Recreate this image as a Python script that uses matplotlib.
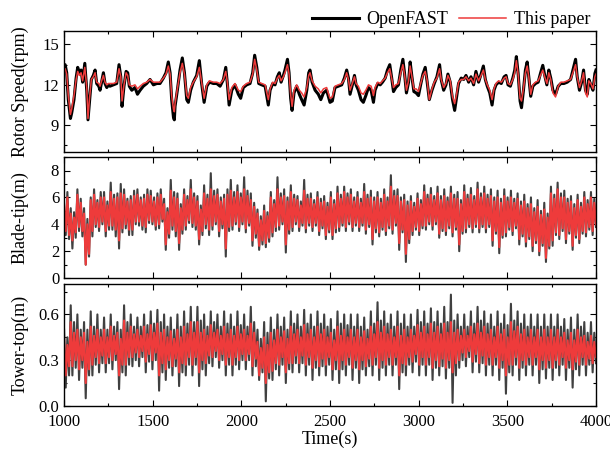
import numpy as np
import matplotlib
matplotlib.use("Agg")
import matplotlib.pyplot as plt
from matplotlib.ticker import MultipleLocator

plt.rcParams['font.family'] = ['Liberation Serif', 'DejaVu Serif']
plt.rcParams['mathtext.fontset'] = 'stix'

# ---------------- Rotor speed (rpm): turning points ----------------
rotor_time = [1000, 1006, 1015, 1024, 1036, 1043, 1056, 1068, 1077, 1086, 1096, 1105, 1117, 1128, 1135, 1143,
              1154, 1165, 1175, 1184, 1196, 1203, 1212, 1222, 1231, 1241, 1250, 1259, 1278, 1297, 1310, 1320,
              1327, 1338, 1350, 1359, 1368, 1382, 1400, 1414, 1429, 1447, 1466, 1485, 1504, 1523, 1541, 1560,
              1575, 1588, 1598, 1607, 1617, 1622, 1626, 1639, 1654, 1667, 1679, 1692, 1701, 1714, 1729, 1748,
              1763, 1776, 1790, 1805, 1820, 1842, 1861, 1880, 1899, 1912, 1921, 1931, 1946, 1964, 1983, 1996,
              2011, 2030, 2049, 2064, 2075, 2087, 2098, 2115, 2134, 2152, 2162, 2177, 2190, 2203, 2214, 2224,
              2237, 2246, 2260, 2269, 2278, 2286, 2297, 2312, 2327, 2340, 2354, 2369, 2380, 2387, 2399, 2416,
              2434, 2448, 2463, 2481, 2500, 2513, 2528, 2547, 2566, 2581, 2594, 2604, 2613, 2626, 2638, 2647,
              2660, 2675, 2688, 2702, 2717, 2732, 2745, 2754, 2769, 2783, 2796, 2811, 2824, 2837, 2849, 2858,
              2871, 2886, 2899, 2911, 2920, 2931, 2943, 2952, 2962, 2973, 2986, 2999, 3011, 3024, 3037, 3048,
              3060, 3075, 3088, 3103, 3118, 3127, 3141, 3154, 3165, 3178, 3191, 3203, 3214, 3225, 3240, 3254,
              3267, 3282, 3295, 3310, 3323, 3338, 3352, 3365, 3376, 3387, 3401, 3414, 3425, 3436, 3451, 3466,
              3482, 3493, 3504, 3517, 3531, 3542, 3551, 3561, 3572, 3580, 3591, 3602, 3612, 3621, 3632, 3644,
              3659, 3674, 3687, 3700, 3711, 3723, 3734, 3745, 3757, 3772, 3787, 3802, 3819, 3838, 3857, 3870,
              3885, 3894, 3907, 3919, 3930, 3941, 3951, 3960, 3971, 3983, 3994, 4000]
rotor_openfast = [13.3, 13.5, 12.9, 10.9, 9.5, 9.9, 10.9, 12.5, 13.3, 12.9, 13.1, 12.2, 13.6, 11.6, 9.4, 10.7,
                  12.4, 12.7, 13.1, 12.1, 11.9, 11.6, 12.2, 12.9, 12.1, 11.8, 12.0, 11.9, 12.0, 12.1, 13.5, 12.6,
                  10.4, 11.9, 13.0, 12.9, 11.9, 11.6, 11.8, 11.3, 11.6, 11.9, 12.1, 12.4, 12.0, 12.1, 12.1, 12.5,
                  12.9, 13.7, 12.9, 10.9, 9.6, 9.4, 10.4, 11.6, 13.1, 14.0, 12.9, 10.9, 10.7, 11.6, 12.2, 12.7,
                  13.8, 12.1, 10.7, 11.9, 12.2, 12.1, 12.1, 11.9, 12.4, 13.3, 12.1, 10.5, 11.6, 12.0, 11.3, 11.0,
                  11.8, 12.0, 12.1, 12.9, 14.2, 13.3, 12.1, 12.0, 11.9, 10.5, 11.6, 12.1, 12.0, 12.6, 12.9, 12.2,
                  12.7, 13.1, 13.9, 12.9, 11.0, 10.1, 11.4, 11.9, 11.3, 10.9, 10.5, 11.6, 12.9, 13.1, 12.2, 11.6,
                  11.3, 10.9, 11.4, 11.6, 10.7, 10.8, 11.8, 11.9, 12.0, 12.5, 13.1, 12.5, 11.3, 12.0, 12.7, 12.0,
                  11.6, 10.9, 10.7, 11.2, 11.8, 11.6, 10.7, 11.6, 12.1, 12.0, 12.2, 12.5, 13.1, 13.5, 12.4, 11.5,
                  11.8, 12.0, 13.1, 13.9, 12.9, 11.4, 12.2, 13.7, 12.6, 11.5, 11.4, 11.2, 12.0, 12.8, 13.3, 12.2,
                  10.9, 11.6, 12.1, 12.6, 13.5, 12.4, 11.6, 12.0, 12.8, 12.2, 10.9, 10.1, 11.1, 12.1, 12.5, 12.4,
                  12.7, 12.2, 12.6, 12.0, 13.0, 12.2, 12.8, 13.4, 12.4, 11.9, 11.4, 10.5, 11.6, 12.0, 12.2, 12.1,
                  12.6, 12.7, 12.0, 11.9, 12.5, 13.1, 14.1, 12.85, 10.8, 10.3, 11.6, 13.1, 13.7, 12.6, 11.15, 11.9,
                  12.1, 12.2, 12.85, 13.45, 12.7, 12.0, 13.1, 12.5, 11.6, 11.3, 11.9, 12.1, 12.1, 12.2, 12.4, 13.1,
                  13.9, 12.6, 11.6, 12.2, 13.1, 11.6, 11.3, 12.4, 12.0, 11.6, 12.85, 13.1]
rotor_paper = [13.0, 13.2, 12.8, 11.2, 9.8, 10.2, 11.2, 12.4, 13.0, 12.7, 12.9, 12.3, 13.3, 11.8, 9.5, 10.9,
               12.4, 12.6, 12.9, 12.2, 12.1, 11.9, 12.3, 12.7, 12.2, 12.0, 12.1, 12.1, 12.1, 12.2, 13.2, 12.6,
               10.8, 12.0, 12.9, 12.7, 12.0, 11.9, 12.0, 11.7, 11.9, 12.1, 12.2, 12.4, 12.2, 12.2, 12.2, 12.5,
               12.8, 13.4, 12.8, 11.2, 10.2, 10.0, 10.6, 11.7, 12.9, 13.6, 12.8, 11.2, 11.0, 11.8, 12.2, 12.6,
               13.3, 12.2, 11.0, 12.0, 12.3, 12.2, 12.2, 12.1, 12.4, 13.0, 12.2, 10.9, 11.8, 12.1, 11.6, 11.5,
               11.9, 12.1, 12.2, 12.8, 13.9, 13.1, 12.2, 12.1, 12.0, 10.9, 11.7, 12.2, 12.1, 12.5, 12.7, 12.3,
               12.6, 12.9, 13.5, 12.8, 11.3, 10.4, 11.6, 12.0, 11.6, 11.4, 11.1, 11.8, 12.7, 12.9, 12.3, 11.9,
               11.7, 11.4, 11.7, 11.8, 11.0, 11.1, 11.9, 12.0, 12.1, 12.4, 12.9, 12.4, 11.6, 12.1, 12.6, 12.1,
               11.9, 11.4, 11.3, 11.6, 12.0, 11.9, 11.2, 11.8, 12.2, 12.1, 12.3, 12.5, 12.9, 13.2, 12.4, 11.8,
               12.0, 12.1, 12.9, 13.5, 12.8, 11.6, 12.3, 13.4, 12.6, 11.7, 11.7, 11.5, 12.1, 12.7, 13.0, 12.3,
               10.9, 11.7, 12.2, 12.5, 13.2, 12.4, 11.8, 12.1, 12.7, 12.3, 11.1, 10.6, 11.3, 12.2, 12.4, 12.4,
               12.6, 12.3, 12.5, 12.1, 12.8, 12.3, 12.7, 13.1, 12.4, 12.0, 11.6, 10.9, 11.7, 12.1, 12.3, 12.2,
               12.5, 12.6, 12.1, 12.0, 12.4, 12.9, 13.8, 12.8, 11.0, 10.8, 11.7, 12.9, 13.4, 12.6, 11.3, 12.0,
               12.2, 12.3, 12.7, 13.1, 12.6, 12.1, 12.9, 12.4, 11.4, 11.1, 11.9, 12.2, 12.2, 12.3, 12.4, 12.9,
               13.5, 12.6, 11.8, 12.3, 12.9, 11.4, 11.1, 12.3, 12.1, 11.7, 12.6, 12.8]

# ---------------- Blade-tip deflection (m): successive peaks/troughs ----------------
blade_openfast = [
    5.0, 3.2, 6.4, 2.9,  5.2, 2.2, 4.9, 3.0,  6.6, 3.5, 5.9, 3.1,  5.2, 1.0, 4.4, 1.6,
    6.0, 3.1, 6.6, 3.8,  5.8, 3.5, 6.4, 4.0,  6.4, 3.1, 5.7, 3.6,  7.1, 3.6, 6.2, 3.1,
    6.3, 2.2, 7.0, 3.4,  6.6, 3.7, 5.9, 3.2,  6.1, 3.2, 6.5, 4.0,  6.6, 3.9, 6.0, 3.6,
    6.2, 3.4, 6.6, 4.1,  6.5, 4.0, 6.0, 3.6,  6.3, 3.7, 6.6, 4.2,  5.9, 2.1, 5.2, 3.0,
    7.3, 3.6, 6.4, 3.1,  6.3, 2.1, 5.5, 3.3,  6.6, 3.6, 6.1, 4.1,  7.3, 3.8, 6.3, 3.6,
    6.1, 2.5, 5.4, 3.2,  6.9, 3.7, 6.2, 3.2,  7.8, 3.6, 6.5, 4.0,  6.6, 3.1, 6.0, 3.7,
    6.2, 1.6, 6.6, 3.5,  7.3, 3.6, 6.4, 4.0,  6.9, 3.5, 6.3, 4.0,  7.5, 3.4, 6.5, 3.9,
    6.3, 2.4, 5.6, 3.0,  5.1, 2.1, 4.6, 2.5,  5.4, 2.3, 4.9, 2.7,  6.4, 3.1, 5.8, 3.5,
    7.5, 3.6, 6.3, 4.0,  6.6, 1.9, 6.0, 3.3,  6.9, 3.5, 6.2, 4.0,  6.1, 3.5, 5.7, 3.9,
    7.3, 3.4, 6.2, 3.9,  6.3, 3.5, 5.8, 3.9,  6.4, 3.2, 5.9, 3.7,  6.1, 2.9, 5.6, 3.4,
    6.4, 2.9, 5.8, 3.4,  6.8, 3.5, 6.2, 3.9,  6.8, 3.5, 6.3, 4.0,  6.6, 3.5, 6.0, 3.9,
    6.4, 3.5, 5.9, 3.9,  7.0, 3.3, 6.2, 3.8,  6.5, 2.5, 6.0, 3.4,  6.4, 3.1, 5.9, 3.6,
    6.6, 3.2, 6.0, 3.7,  7.65, 3.3, 6.5, 3.9, 6.6, 2.1, 6.0, 3.4,  6.2, 1.2, 5.7, 2.6,
    6.1, 3.2, 5.6, 3.6,  6.3, 3.2, 5.8, 3.7,  6.9, 3.6, 6.2, 4.0,  6.7, 3.6, 6.1, 4.0,
    6.8, 3.0, 6.1, 3.5,  6.6, 3.2, 6.0, 3.7,  6.8, 3.1, 6.2, 3.6,  6.4, 2.0, 5.8, 3.3,
    6.9, 3.4, 6.2, 3.8,  6.7, 3.4, 6.1, 3.8,  7.1, 3.4, 6.3, 3.8,  6.8, 3.4, 6.2, 3.8,
    6.6, 2.4, 6.0, 3.3,  6.5, 1.85, 5.9, 3.0, 6.6, 3.1, 6.0, 3.6,  6.5, 3.2, 5.9, 3.7,
    6.3, 2.5, 5.7, 3.1,  6.2, 2.35, 5.5, 2.9, 6.0, 2.0, 5.2, 2.6,  5.8, 1.7, 5.0, 2.4,
    5.6, 1.2, 4.8, 2.2,  6.8, 2.4, 6.2, 3.2,  7.1, 2.9, 6.3, 3.5,  6.5, 2.6, 5.9, 3.3,
    6.1, 2.1, 5.5, 3.0,  6.2, 2.6, 5.6, 3.3,  6.4, 3.1, 5.8, 3.6,  6.4, 3.2, 5.9, 3.8]
blade_paper = [
    5.5, 3.5, 6.0, 3.2,  4.8, 2.8, 4.5, 3.4,  6.2, 3.8, 5.6, 3.5,  4.8, 1.0, 4.0, 1.8,
    5.8, 3.5, 6.2, 4.0,  5.6, 3.8, 6.0, 4.2,  6.0, 3.5, 5.4, 3.9,  6.4, 3.9, 5.9, 3.6,
    6.0, 2.8, 6.3, 3.7,  6.2, 4.0, 5.7, 3.6,  5.8, 3.6, 6.1, 4.2,  6.2, 4.2, 5.8, 3.9,
    5.9, 3.8, 6.2, 4.3,  6.1, 4.2, 5.7, 3.9,  6.0, 4.0, 6.2, 4.4,  5.5, 2.5, 4.9, 3.3,
    6.5, 3.9, 6.0, 3.5,  5.9, 2.6, 5.2, 3.6,  6.2, 3.9, 5.8, 4.3,  6.6, 4.1, 6.0, 3.9,
    5.7, 2.9, 5.1, 3.5,  6.3, 4.0, 5.9, 3.6,  6.6, 3.9, 6.1, 4.2,  6.2, 3.5, 5.7, 4.0,
    5.9, 2.2, 6.2, 3.8,  6.5, 3.9, 6.0, 4.2,  6.4, 3.8, 6.0, 4.2,  6.6, 3.7, 6.1, 4.1,
    5.8, 2.8, 5.3, 3.3,  4.8, 2.4, 4.3, 2.8,  5.0, 2.6, 4.6, 3.0,  6.0, 3.4, 5.5, 3.8,
    6.6, 3.9, 6.0, 4.2,  6.1, 2.5, 5.7, 3.6,  6.4, 3.8, 5.9, 4.2,  5.8, 3.8, 5.4, 4.1,
    6.5, 3.7, 5.9, 4.1,  5.9, 3.8, 5.5, 4.1,  6.0, 3.5, 5.6, 3.9,  5.7, 3.2, 5.3, 3.6,
    6.0, 3.2, 5.5, 3.7,  6.3, 3.8, 5.9, 4.1,  6.4, 3.8, 6.0, 4.2,  6.2, 3.8, 5.7, 4.1,
    6.0, 3.8, 5.6, 4.1,  6.4, 3.6, 5.9, 4.0,  6.0, 2.9, 5.7, 3.7,  6.0, 3.4, 5.6, 3.8,
    6.2, 3.5, 5.7, 3.9,  6.8, 3.6, 6.1, 4.1,  6.1, 2.6, 5.7, 3.6,  5.8, 1.8, 5.4, 2.9,
    5.7, 3.5, 5.3, 3.8,  5.9, 3.5, 5.5, 3.9,  6.4, 3.9, 5.9, 4.2,  6.2, 3.9, 5.8, 4.2,
    6.3, 3.3, 5.8, 3.7,  6.1, 3.5, 5.7, 3.9,  6.3, 3.4, 5.9, 3.8,  5.9, 2.5, 5.5, 3.5,
    6.4, 3.7, 5.9, 4.0,  6.2, 3.7, 5.8, 4.0,  6.6, 3.7, 6.0, 4.0,  6.3, 3.7, 5.9, 4.0,
    6.1, 2.8, 5.7, 3.5,  6.0, 2.3, 5.6, 3.2,  6.1, 3.4, 5.7, 3.8,  6.0, 3.5, 5.6, 3.9,
    5.9, 2.9, 5.4, 3.3,  5.7, 2.7, 5.2, 3.1,  5.5, 2.4, 4.9, 2.8,  5.3, 2.0, 4.7, 2.6,
    5.1, 1.5, 4.5, 2.4,  6.3, 2.8, 5.9, 3.4,  6.6, 3.2, 6.0, 3.7,  6.0, 2.9, 5.6, 3.5,
    5.7, 2.4, 5.2, 3.2,  5.8, 2.9, 5.3, 3.5,  6.0, 3.4, 5.5, 3.8,  6.0, 3.5, 5.6, 4.0]

# ---------------- Tower-top deflection (m): successive peaks/troughs ----------------
tower_openfast = [
    0.50, 0.12, 0.45, 0.20,  0.66, 0.20, 0.55, 0.25,  0.60, 0.17, 0.50, 0.25,  0.55, 0.05, 0.50, 0.20,
    0.62, 0.20, 0.52, 0.27,  0.60, 0.22, 0.50, 0.28,  0.58, 0.22, 0.50, 0.28,  0.60, 0.24, 0.52, 0.30,
    0.55, 0.11, 0.50, 0.22,  0.66, 0.20, 0.55, 0.27,  0.60, 0.26, 0.52, 0.30,  0.58, 0.26, 0.52, 0.32,
    0.60, 0.22, 0.53, 0.29,  0.62, 0.24, 0.54, 0.30,  0.63, 0.10, 0.55, 0.22,  0.60, 0.17, 0.52, 0.25,
    0.58, 0.20, 0.50, 0.26,  0.60, 0.13, 0.52, 0.22,  0.62, 0.20, 0.54, 0.27,  0.65, 0.20, 0.55, 0.27,
    0.65, 0.13, 0.56, 0.24,  0.60, 0.20, 0.52, 0.28,  0.62, 0.26, 0.55, 0.32,  0.60, 0.25, 0.52, 0.30,
    0.62, 0.20, 0.54, 0.27,  0.60, 0.20, 0.52, 0.27,  0.62, 0.24, 0.53, 0.30,  0.60, 0.24, 0.52, 0.30,
    0.65, 0.20, 0.55, 0.26,  0.50, 0.17, 0.44, 0.22,  0.55, 0.03, 0.48, 0.18,  0.58, 0.17, 0.50, 0.24,
    0.60, 0.20, 0.52, 0.27,  0.58, 0.15, 0.50, 0.24,  0.62, 0.22, 0.54, 0.28,  0.60, 0.22, 0.52, 0.28,
    0.63, 0.20, 0.54, 0.27,  0.60, 0.17, 0.52, 0.25,  0.62, 0.20, 0.54, 0.26,  0.60, 0.20, 0.52, 0.27,
    0.57, 0.17, 0.50, 0.24,  0.62, 0.15, 0.54, 0.24,  0.60, 0.20, 0.53, 0.27,  0.60, 0.17, 0.52, 0.25,
    0.60, 0.15, 0.52, 0.24,  0.58, 0.20, 0.50, 0.26,  0.62, 0.20, 0.54, 0.27,  0.68, 0.17, 0.56, 0.25,
    0.62, 0.20, 0.54, 0.27,  0.60, 0.20, 0.52, 0.27,  0.62, 0.11, 0.54, 0.22,  0.60, 0.20, 0.52, 0.27,
    0.60, 0.22, 0.52, 0.29,  0.63, 0.20, 0.55, 0.27,  0.62, 0.20, 0.54, 0.27,  0.64, 0.17, 0.55, 0.25,
    0.62, 0.20, 0.54, 0.26,  0.65, 0.18, 0.55, 0.25,  0.73, 0.02, 0.56, 0.20,  0.60, 0.25, 0.52, 0.30,
    0.60, 0.26, 0.52, 0.32,  0.62, 0.22, 0.54, 0.29,  0.65, 0.22, 0.56, 0.28,  0.62, 0.20, 0.54, 0.27,
    0.60, 0.20, 0.52, 0.27,  0.62, 0.17, 0.54, 0.25,  0.60, 0.08, 0.53, 0.22,  0.67, 0.20, 0.56, 0.27,
    0.62, 0.17, 0.54, 0.25,  0.60, 0.20, 0.52, 0.27,  0.60, 0.20, 0.52, 0.27,  0.60, 0.15, 0.52, 0.24,
    0.60, 0.18, 0.52, 0.25,  0.60, 0.17, 0.52, 0.25,  0.60, 0.20, 0.52, 0.27,  0.57, 0.17, 0.50, 0.25,
    0.58, 0.12, 0.50, 0.24,  0.60, 0.20, 0.52, 0.27,  0.55, 0.20, 0.48, 0.27,  0.55, 0.22, 0.48, 0.28]
tower_paper = [
    0.45, 0.20, 0.40, 0.26,  0.55, 0.26, 0.48, 0.30,  0.50, 0.24, 0.45, 0.30,  0.48, 0.15, 0.42, 0.24,
    0.52, 0.27, 0.46, 0.32,  0.50, 0.28, 0.45, 0.33,  0.50, 0.28, 0.45, 0.32,  0.52, 0.30, 0.46, 0.34,
    0.48, 0.20, 0.44, 0.27,  0.56, 0.27, 0.48, 0.32,  0.52, 0.32, 0.47, 0.35,  0.50, 0.32, 0.46, 0.36,
    0.52, 0.29, 0.47, 0.34,  0.53, 0.30, 0.48, 0.35,  0.54, 0.20, 0.48, 0.28,  0.50, 0.24, 0.45, 0.30,
    0.49, 0.26, 0.44, 0.31,  0.50, 0.22, 0.45, 0.28,  0.52, 0.27, 0.47, 0.32,  0.55, 0.27, 0.48, 0.32,
    0.55, 0.22, 0.48, 0.30,  0.50, 0.28, 0.46, 0.33,  0.53, 0.32, 0.48, 0.36,  0.50, 0.30, 0.46, 0.34,
    0.52, 0.27, 0.47, 0.32,  0.50, 0.27, 0.46, 0.32,  0.52, 0.30, 0.47, 0.34,  0.50, 0.30, 0.46, 0.34,
    0.54, 0.26, 0.48, 0.31,  0.42, 0.20, 0.38, 0.25,  0.45, 0.15, 0.40, 0.22,  0.48, 0.23, 0.43, 0.28,
    0.50, 0.27, 0.45, 0.32,  0.49, 0.22, 0.44, 0.28,  0.52, 0.28, 0.47, 0.33,  0.50, 0.28, 0.45, 0.33,
    0.53, 0.27, 0.47, 0.32,  0.50, 0.25, 0.45, 0.30,  0.52, 0.26, 0.47, 0.31,  0.50, 0.27, 0.45, 0.32,
    0.48, 0.24, 0.43, 0.30,  0.52, 0.24, 0.46, 0.30,  0.50, 0.27, 0.45, 0.32,  0.50, 0.25, 0.45, 0.30,
    0.50, 0.24, 0.45, 0.30,  0.49, 0.26, 0.44, 0.31,  0.52, 0.27, 0.47, 0.32,  0.55, 0.25, 0.48, 0.30,
    0.52, 0.27, 0.47, 0.32,  0.50, 0.27, 0.45, 0.32,  0.52, 0.20, 0.46, 0.28,  0.50, 0.27, 0.45, 0.32,
    0.50, 0.29, 0.46, 0.34,  0.53, 0.27, 0.48, 0.32,  0.52, 0.27, 0.47, 0.32,  0.54, 0.25, 0.48, 0.30,
    0.52, 0.26, 0.47, 0.31,  0.54, 0.25, 0.48, 0.30,  0.55, 0.22, 0.48, 0.28,  0.50, 0.30, 0.46, 0.35,
    0.50, 0.32, 0.46, 0.36,  0.52, 0.29, 0.47, 0.34,  0.54, 0.28, 0.48, 0.33,  0.52, 0.27, 0.47, 0.32,
    0.50, 0.27, 0.45, 0.32,  0.52, 0.25, 0.47, 0.30,  0.50, 0.20, 0.45, 0.27,  0.55, 0.27, 0.49, 0.32,
    0.52, 0.25, 0.47, 0.30,  0.50, 0.27, 0.45, 0.32,  0.50, 0.27, 0.45, 0.32,  0.50, 0.24, 0.45, 0.30,
    0.50, 0.25, 0.45, 0.30,  0.50, 0.25, 0.45, 0.30,  0.50, 0.27, 0.45, 0.32,  0.48, 0.25, 0.43, 0.30,
    0.48, 0.24, 0.43, 0.29,  0.50, 0.27, 0.45, 0.32,  0.46, 0.27, 0.42, 0.31,  0.46, 0.28, 0.42, 0.32]

labels = ['OpenFAST', 'This paper']
ylabels = ['Rotor Speed(rpm)', 'Blade-tip(m)', 'Tower-top(m)']
xlabel = 'Time(s)'
t_start, t_end = 1000, 4000

BLACK = '#000000'
GRAY = '#404040'
RED = '#ee3b3b'

fig = plt.figure(figsize=(6.1, 4.5), dpi=100)
left, width = 0.105, 0.872
ax1 = fig.add_axes([left, 0.662, width, 0.269])
ax2 = fig.add_axes([left, 0.382, width, 0.269])
ax3 = fig.add_axes([left, 0.098, width, 0.271])

ax1.plot(rotor_time, rotor_openfast, color=BLACK, lw=2.2, label=labels[0], solid_joinstyle='round')
ax1.plot(rotor_time, rotor_paper, color=RED, lw=1.1, label=labels[1])

tb = np.linspace(t_start, t_end, len(blade_openfast))
ax2.plot(tb, blade_openfast, color=GRAY, lw=1.5)
ax2.plot(np.linspace(t_start, t_end, len(blade_paper)), blade_paper, color=RED, lw=1.5)

tt = np.linspace(t_start, t_end, len(tower_openfast))
ax3.plot(tt, tower_openfast, color=GRAY, lw=1.5)
ax3.plot(np.linspace(t_start, t_end, len(tower_paper)), tower_paper, color=RED, lw=1.5)

ax1.set_ylim(7, 16)
ax1.yaxis.set_major_locator(MultipleLocator(3))
ax1.yaxis.set_minor_locator(MultipleLocator(1.5))
ax2.set_ylim(0, 9)
ax2.yaxis.set_major_locator(MultipleLocator(2))
ax2.yaxis.set_minor_locator(MultipleLocator(1))
ax3.set_ylim(0, 0.8)
ax3.yaxis.set_major_locator(MultipleLocator(0.3))
ax3.yaxis.set_minor_locator(MultipleLocator(0.15))
ax3.yaxis.set_major_formatter(matplotlib.ticker.FormatStrFormatter('%.1f'))

for ax, yl in zip([ax1, ax2, ax3], ylabels):
    ax.set_xlim(t_start, t_end)
    ax.xaxis.set_major_locator(MultipleLocator(500))
    ax.xaxis.set_minor_locator(MultipleLocator(250))
    ax.tick_params(which='both', direction='in', top=True, right=True, labelsize=12)
    ax.tick_params(which='major', length=4, width=0.8)
    ax.tick_params(which='minor', length=2.5, width=0.8)
    for s in ax.spines.values():
        s.set_linewidth(1.0)
    ax.set_ylabel(yl, fontsize=13)
    ax.yaxis.set_label_coords(-0.066, 0.5)

ax1.tick_params(labelbottom=False)
ax2.tick_params(labelbottom=False)
ax3.tick_params(axis='x', pad=6)
ax3.set_xlabel(xlabel, fontsize=13, labelpad=0)

fig.legend(loc='upper right', bbox_to_anchor=(0.985, 1.0), ncol=2, frameon=False, fontsize=13,
           handlelength=2.6, columnspacing=0.6, handletextpad=0.4, borderaxespad=0.2)

fig.savefig('out.png', dpi=100)
